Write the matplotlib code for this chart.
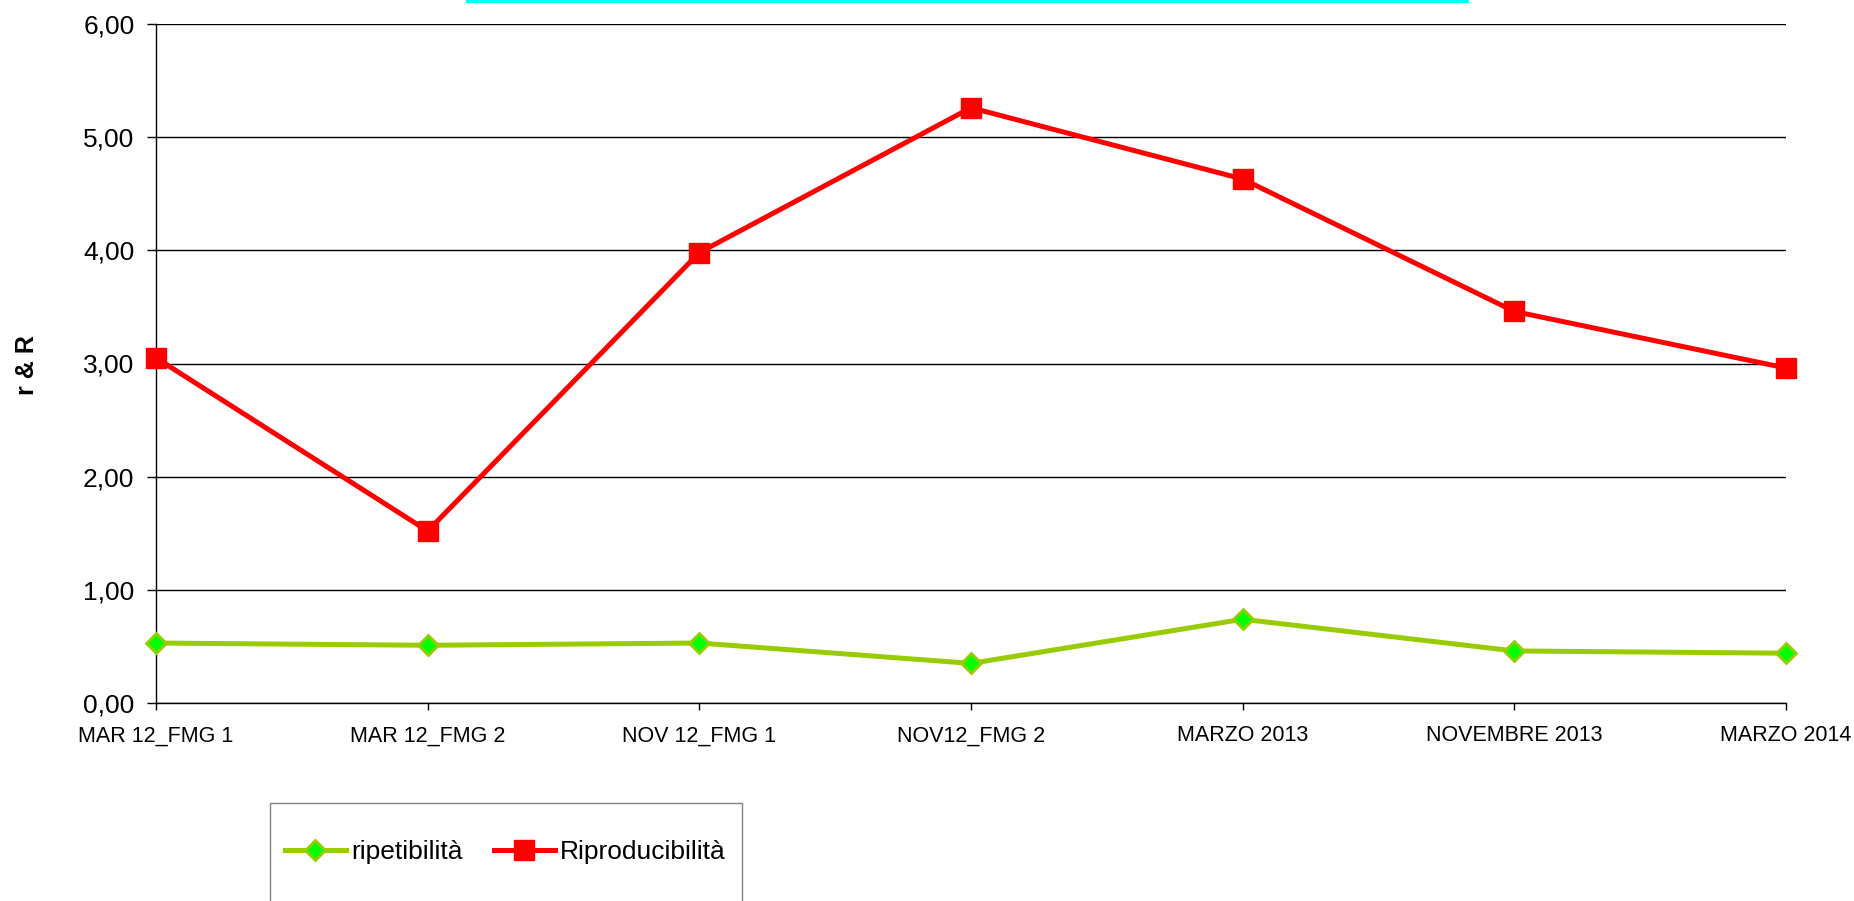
import matplotlib
matplotlib.use("Agg")
import matplotlib.pyplot as plt
from matplotlib.patches import Rectangle
from matplotlib.ticker import FuncFormatter

categories = ["MAR 12_FMG 1", "MAR 12_FMG 2", "NOV 12_FMG 1", "NOV12_FMG 2",
              "MARZO 2013", "NOVEMBRE 2013", "MARZO 2014"]
ripetibilita = [0.53, 0.51, 0.53, 0.35, 0.74, 0.46, 0.44]
riproducibilita = [3.05, 1.52, 3.98, 5.26, 4.63, 3.46, 2.96]
y_ticks = [0, 1, 2, 3, 4, 5, 6]

plt.rcParams['font.family'] = ['Liberation Sans', 'DejaVu Sans']

W, H = 1854, 901
fig = plt.figure(figsize=(W / 100, H / 100), dpi=100)
ax = fig.add_axes([156 / W, 1 - 703 / H, (1786 - 156) / W, (703 - 24) / H])

x = list(range(len(categories)))
l1, = ax.plot(x, ripetibilita, color='#99CC00', lw=3.6, marker='D', markersize=10,
              markerfacecolor='#00FF00', markeredgecolor='#99CC00', markeredgewidth=2,
              label='ripetibilità', zorder=3, clip_on=False)
l2, = ax.plot(x, riproducibilita, color='#FF0000', lw=3.6, marker='s', markersize=14,
              markerfacecolor='#FF0000', markeredgecolor='#FF0000', markeredgewidth=1,
              label='Riproducibilità', zorder=4, clip_on=False)

ax.set_xlim(0, len(categories) - 1)
ax.set_ylim(0, 6)
ax.set_yticks(y_ticks)
ax.yaxis.set_major_formatter(FuncFormatter(lambda v, p: f"{v:.2f}".replace('.', ',')))
ax.set_xticks(x)
ax.set_xticklabels(categories)
ax.grid(axis='y', color='black', lw=1.0)
ax.set_axisbelow(True)
for s in ['top', 'right']:
    ax.spines[s].set_visible(False)
for s in ['left', 'bottom']:
    ax.spines[s].set_color('black')
    ax.spines[s].set_linewidth(1.0)
ax.tick_params(axis='y', length=6.5, width=1.0, labelsize=19, pad=9)
ax.tick_params(axis='x', length=5, width=1.0, labelsize=15.5, pad=11)

fig.text(27 / W, 1 - 365 / H, 'r & R', fontsize=18, fontweight='bold',
         rotation=90, ha='center', va='center')

# legend frame
fig.add_artist(Rectangle((270 / W, -0.05), (742 - 270) / W, 1 - 803 / H + 0.05,
                         transform=fig.transFigure, facecolor='white',
                         edgecolor='#808080', lw=1.0))
fig.legend(handles=[l1, l2], loc='center left',
           bbox_to_anchor=(285 / W, 1 - 852 / H), ncol=2, frameon=False,
           fontsize=19, handlelength=2.3, handletextpad=0.2, columnspacing=1.2,
           borderpad=0, borderaxespad=0)

# cyan line at top
fig.add_artist(Rectangle((466 / W, 1 - 3 / H), (1469 - 466) / W, 3 / H,
                         transform=fig.transFigure, facecolor='#00FFFF',
                         edgecolor='none'))

fig.savefig('out.png', dpi=100)
